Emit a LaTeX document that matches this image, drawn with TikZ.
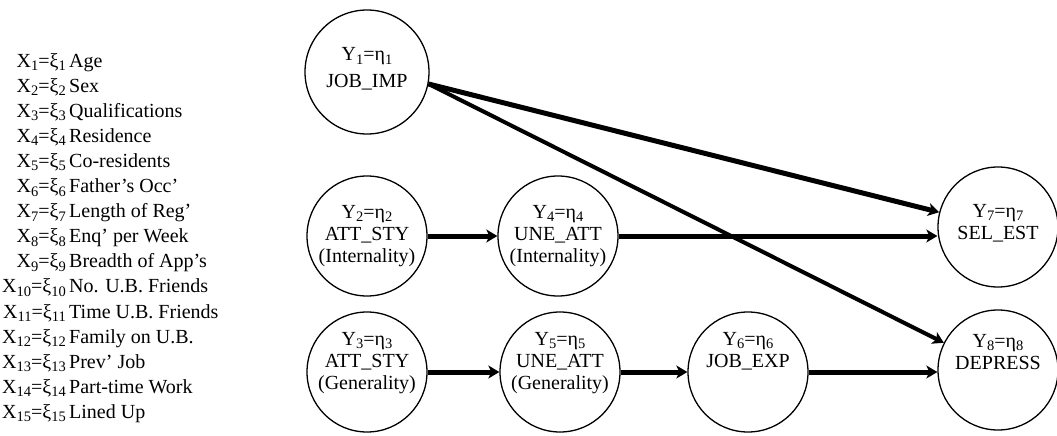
\documentclass[tikz,border=0pt]{standalone}
\usepackage{fontspec}
\setmainfont{Liberation Serif}
\usetikzlibrary{arrows.meta}

% lowered index digits, as in the printed path model
\newcommand\lowidx[1]{\raisebox{-3.5pt}{\fontsize{14.5}{14.5}\selectfont#1}}
\newcommand\xv[1]{X\lowidx{#1}=ξ\lowidx{#1}}
\newcommand\yv[1]{Y\lowidx{#1}=η\lowidx{#1}}
\newcommand\lines[1]{\begin{tabular}[t]{@{}c@{}}#1\end{tabular}}

\begin{document}
\begin{tikzpicture}[x=1pt,y=-1pt,
  latent/.style={circle,draw,line width=1.3pt,minimum size=120pt,inner sep=0pt},
  ltext/.style={anchor=base,inner sep=0pt,font=\fontsize{20}{22}\selectfont},
  effect/.style={line width=5pt,-{Stealth[length=11pt,width=13pt,inset=3pt]}},
  legx/.style={anchor=base east,inner sep=0pt,font=\fontsize{20}{22}\selectfont},
  legd/.style={anchor=base west,inner sep=0pt,font=\fontsize{20}{22}\selectfont}]
\useasboundingbox (0,0) rectangle (1057,436);

% exogenous variables
\foreach \i/\d in {1/Age,2/Sex,3/Qualifications,4/Residence,5/Co-residents,
  6/Father’s Occ’,7/Length of Reg’,8/Enq’ per Week,9/Breadth of App’s,
  10/No. U.B. Friends,11/Time U.B. Friends,12/Family on U.B.,13/Prev’ Job,
  14/Part-time Work,15/Lined Up}{
  \node[legx] (xs\i) at (66,{67+(\i-1)*25.1}) {\xv{\i}};
  \node[legd] (xd\i) at (69,{67+(\i-1)*25.1}) {\d};
}

% endogenous variables
\node[latent,minimum size=124pt] (Y1) at (367,72) {};
\node[latent] (Y2) at (367,236) {};
\node[latent] (Y3) at (367,372) {};
\node[latent] (Y4) at (558,236) {};
\node[latent] (Y5) at (560,372) {};
\node[latent] (Y6) at (748,372) {};
\node[latent] (Y7) at (998,227) {};
\node[latent] (Y8) at (998,370) {};

\node[ltext] (T1) at (367,61)  {\lines{\yv{1}\\[4pt]JOB\_IMP}};
\node[ltext] (T2) at (367,218) {\lines{\yv{2}\\ATT\_STY\\(Internality)}};
\node[ltext] (T3) at (367,345) {\lines{\yv{3}\\ATT\_STY\\(Generality)}};
\node[ltext] (T4) at (558,218) {\lines{\yv{4}\\UNE\_ATT\\(Internality)}};
\node[ltext] (T5) at (560,345) {\lines{\yv{5}\\UNE\_ATT\\(Generality)}};
\node[ltext] (T6) at (748,345) {\lines{\yv{6}\\JOB\_EXP}};
\node[ltext] (T7) at (998,217) {\lines{\yv{7}\\SEL\_EST}};
\node[ltext] (T8) at (998,347) {\lines{\yv{8}\\DEPRESS}};

% paths
\draw[effect] (Y1.-11) -- (Y7);
\draw[effect,line width=4pt] (Y1.-11) -- (Y8);
\draw[effect] (Y2.east) -- (Y4.west);
\draw[effect] (Y4.east) -- (Y4.east -| Y7.west);
\draw[effect] (Y3.east) -- (Y5.west);
\draw[effect] (Y5.east) -- (Y6.west);
\draw[effect] (Y6.east) -- (Y6.east -| Y8.west);
\end{tikzpicture}
\end{document}
